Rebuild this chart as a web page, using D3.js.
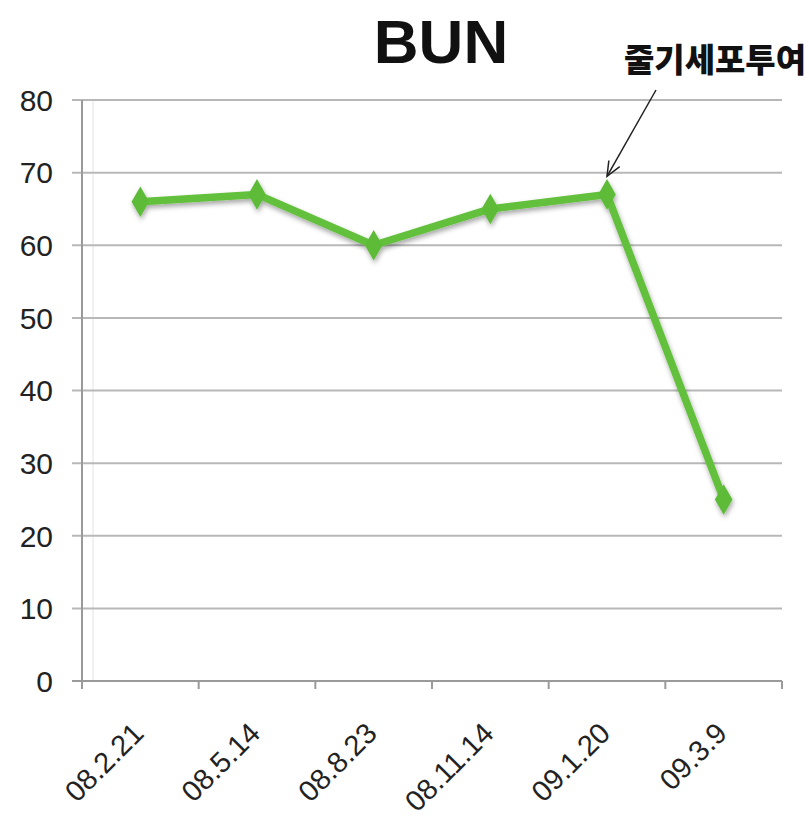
<!DOCTYPE html>
<html>
<head>
<meta charset="utf-8">
<script src="https://cdn.jsdelivr.net/npm/d3@7"></script>
<style>
  body { margin: 0; background: #fff; }
</style>
</head>
<body>
<div id="chart"></div>
<script>
// data
var dates = ["08.2.21", "08.5.14", "08.8.23", "08.11.14", "09.1.20", "09.3.9"];
var bun = [66, 67, 60, 65, 67, 25];
var yTicks = [0, 10, 20, 30, 40, 50, 60, 70, 80];

var width = 809, height = 817;
var plotLeft = 82, plotRight = 782, plotTop = 100, plotBottom = 681;

var svg = d3.select("#chart").append("svg")
    .attr("width", width)
    .attr("height", height)
    .style("font-family", "Arial, 'Liberation Sans', sans-serif");

var defs = svg.append("defs");
var f = defs.append("filter").attr("id", "shadow")
    .attr("x", "-20%").attr("y", "-20%").attr("width", "140%").attr("height", "140%");
f.append("feDropShadow").attr("dx", 1).attr("dy", 3).attr("stdDeviation", 2.5)
    .attr("flood-color", "#000").attr("flood-opacity", 0.35);

var x = d3.scaleBand().domain(dates).range([plotLeft, plotRight]);
var y = d3.scaleLinear().domain([0, 80]).range([plotBottom, plotTop]);

// faint inner border of the plot area
svg.append("line")
    .attr("x1", plotLeft + 11).attr("x2", plotLeft + 11)
    .attr("y1", plotTop).attr("y2", plotBottom)
    .attr("stroke", "#ececec").attr("stroke-width", 1.5);

// gridlines
svg.append("g").selectAll("line")
    .data(yTicks)
    .enter().append("line")
    .attr("x1", plotLeft - 10).attr("x2", plotRight)
    .attr("y1", function (d) { return y(d); })
    .attr("y2", function (d) { return y(d); })
    .attr("stroke", function (d) { return d === 0 ? "#9a9a9a" : "#b8b8b8"; })
    .attr("stroke-width", 2);

// y axis labels
svg.append("g").selectAll("text")
    .data(yTicks)
    .enter().append("text")
    .attr("x", 53)
    .attr("y", function (d) { return y(d); })
    .attr("dy", "0.36em")
    .attr("text-anchor", "end")
    .attr("font-size", 30)
    .attr("fill", "#222")
    .text(function (d) { return d; });

// y axis line
svg.append("line")
    .attr("x1", plotLeft).attr("x2", plotLeft)
    .attr("y1", plotTop).attr("y2", plotBottom + 8)
    .attr("stroke", "#9a9a9a").attr("stroke-width", 2);

// x tick marks at band edges
var edges = dates.map(function (d) { return x(d); }).concat([plotRight]);
svg.append("g").selectAll("line")
    .data(edges)
    .enter().append("line")
    .attr("x1", function (d) { return d; })
    .attr("x2", function (d) { return d; })
    .attr("y1", plotBottom).attr("y2", plotBottom + 8)
    .attr("stroke", "#9a9a9a").attr("stroke-width", 2);

// x labels rotated
svg.append("g").selectAll("text")
    .data(dates)
    .enter().append("text")
    .attr("transform", function (d) {
        return "translate(" + (x(d) + x.bandwidth() / 2 + 5) + "," + (plotBottom + 54) + ") rotate(-45)";
    })
    .attr("text-anchor", "end")
    .attr("font-size", 29)
    .attr("fill", "#222")
    .text(function (d) { return d; });

// line + markers
var line = d3.line()
    .x(function (d, i) { return x(dates[i]) + x.bandwidth() / 2; })
    .y(function (d) { return y(d); });

var series = svg.append("g").attr("filter", "url(#shadow)");
series.append("path")
    .datum(bun)
    .attr("d", line)
    .attr("fill", "none")
    .attr("stroke", "#62c03c")
    .attr("stroke-width", 7.5)
    .attr("stroke-linejoin", "round");

series.selectAll("path.pt")
    .data(bun)
    .enter().append("path")
    .attr("class", "pt")
    .attr("d", d3.symbol().type(d3.symbolDiamond).size(270))
    .attr("transform", function (d, i) {
        return "translate(" + (x(dates[i]) + x.bandwidth() / 2) + "," + y(d) + ")";
    })
    .attr("fill", "#5dbb38");

// title
svg.append("text")
    .attr("x", 441).attr("y", 63)
    .attr("text-anchor", "middle")
    .attr("font-size", 62)
    .attr("font-weight", "bold")
    .attr("fill", "#111")
    .text("BUN");

// annotation
svg.append("text")
    .attr("x", 715).attr("y", 72)
    .attr("text-anchor", "middle")
    .attr("font-size", 33)
    .attr("font-weight", "900")
    .attr("font-family", "'Noto Sans CJK KR', sans-serif")
    .attr("fill", "#111")
    .text("줄기세포투여");

var ax = x(dates[4]) + x.bandwidth() / 2;
var ay = y(bun[4]) - 18;
svg.append("line")
    .attr("x1", 656).attr("y1", 90)
    .attr("x2", ax).attr("y2", ay)
    .attr("stroke", "#222").attr("stroke-width", 1.5);
var ang = Math.atan2(ay - 90, ax - 656);
var hl = 16;
svg.append("path")
    .attr("d", "M" + (ax - hl * Math.cos(ang - 0.4)) + "," + (ay - hl * Math.sin(ang - 0.4)) +
        "L" + ax + "," + ay +
        "L" + (ax - hl * Math.cos(ang + 0.4)) + "," + (ay - hl * Math.sin(ang + 0.4)))
    .attr("fill", "none")
    .attr("stroke", "#222").attr("stroke-width", 1.5);
</script>
</body>
</html>
